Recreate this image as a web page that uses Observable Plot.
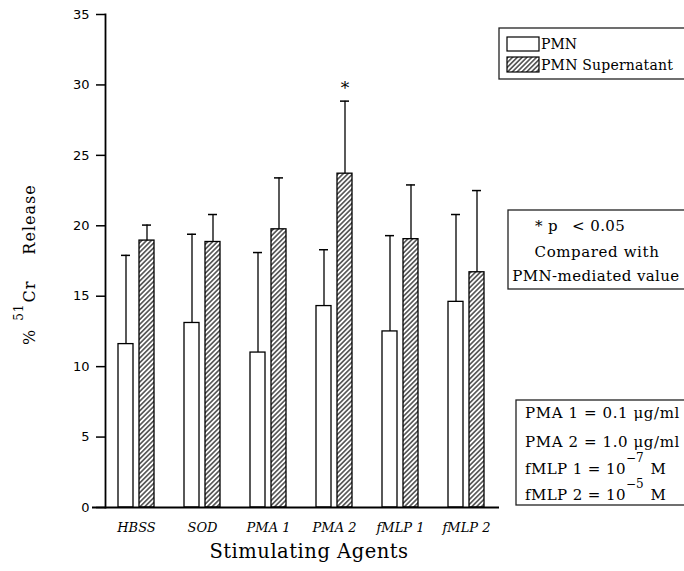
<!DOCTYPE html>
<html><head><meta charset="utf-8">
<script src="https://cdn.jsdelivr.net/npm/d3@7"></script>
<script src="https://cdn.jsdelivr.net/npm/@observablehq/plot@0.6"></script>
<style>body{margin:0;background:#fff} svg{display:block}</style>
</head><body><div id="chart"></div>
<script>
const agents = ["HBSS", "SOD", "PMA 1", "PMA 2", "fMLP 1", "fMLP 2"];
const pmnMean = [11.6, 13.1, 11.0, 14.3, 12.5, 14.6];
const pmnTop  = [17.9, 19.4, 18.1, 18.3, 19.3, 20.8];
const supMean = [18.95, 18.85, 19.75, 23.7, 19.05, 16.7];
const supTop  = [20.05, 20.8, 23.4, 28.85, 22.9, 22.5];
const significant = ["PMA 2"];
const yTicks = [0, 5, 10, 15, 20, 25, 30, 35];

const pmn = agents.map((a, i) => ({agent: a, mean: pmnMean[i], top: pmnTop[i]}));
const sup = agents.map((a, i) => ({agent: a, mean: supMean[i], top: supTop[i]}));
const sig = sup.filter(d => significant.includes(d.agent));

const serif = "'DejaVu Serif', serif";
const sans = "'DejaVu Sans', sans-serif";

const plot = Plot.plot({
  width: 684, height: 571,
  marginLeft: 105, marginRight: 185, marginTop: 14, marginBottom: 64,
  x: {domain: agents, range: [103, 499], padding: 0, label: null},
  y: {domain: [0, 35], label: null},
  style: {background: "white", color: "black"},
  marks: [
    Plot.barY(pmn, {x: "agent", y: "mean", fill: "white", stroke: "black", strokeWidth: 1.3, insetLeft: 15, insetRight: 36}),
    Plot.barY(sup, {x: "agent", y: "mean", fill: "url(#hatch51)", stroke: "black", strokeWidth: 1.3, insetLeft: 36, insetRight: 15}),
    Plot.ruleX(pmn, {x: "agent", y1: "mean", y2: "top", dx: -10.5, stroke: "black", strokeWidth: 1.3}),
    Plot.ruleX(sup, {x: "agent", y1: "mean", y2: "top", dx: 10.5, stroke: "black", strokeWidth: 1.3}),
    Plot.tickY(pmn, {x: "agent", y: "top", insetLeft: 18, insetRight: 39, stroke: "black", strokeWidth: 1.5}),
    Plot.tickY(sup, {x: "agent", y: "top", insetLeft: 39, insetRight: 18, stroke: "black", strokeWidth: 1.5}),
    Plot.text(sig, {x: "agent", y: "top", text: () => "*", dx: 10.5, dy: -13, fontSize: 17, fontFamily: serif, fill: "black"}),
    Plot.frame({anchor: "left", stroke: "black", strokeWidth: 1.8}),
    Plot.ruleY([0], {stroke: "black", strokeWidth: 1.8, insetLeft: -13}),
    Plot.axisY({ticks: yTicks, tickSize: 9, tickPadding: 7, tickFormat: d => String(d), fontSize: 13, fontFamily: sans, strokeWidth: 1.5}),
    Plot.axisX({tickSize: 0, tickPadding: 15, fontSize: 13, fontFamily: serif, fontStyle: "italic"})
  ]
});

document.getElementById("chart").appendChild(plot);
const svg = d3.select(plot);
svg.insert("defs", ":first-child").html(
  '<pattern id="hatch51" patternUnits="userSpaceOnUse" width="3.4" height="3.4" patternTransform="rotate(45)">' +
  '<rect width="3.4" height="3.4" fill="white"/>' +
  '<line x1="1.7" y1="0" x2="1.7" y2="3.4" stroke="black" stroke-width="1.1"/></pattern>'
);

const ann = svg.append("g").attr("font-family", serif).attr("fill", "black").attr("text-anchor", "start");

// Y axis label
const yl = ann.append("text").attr("transform", "translate(35,345) rotate(-90)")
  .attr("font-size", 16).attr("letter-spacing", 1).attr("text-anchor", "start");
yl.append("tspan").text("%");
yl.append("tspan").attr("dx", 8).attr("dy", -12).attr("font-size", 12).text("51");
yl.append("tspan").attr("dx", 1).attr("dy", 12).text("Cr");
yl.append("tspan").attr("dx", 26).text("Release");

// X axis label
ann.append("text").attr("x", 309).attr("y", 558).attr("text-anchor", "middle")
  .attr("font-size", 19.5).attr("letter-spacing", 0.5).text("Stimulating Agents");

// Legend box
const box = (x, y, w, h) => ann.append("rect").attr("x", x).attr("y", y).attr("width", w).attr("height", h)
  .attr("fill", "none").attr("stroke", "#222").attr("stroke-width", 1.3);
box(499, 28, 200, 51);
ann.append("rect").attr("x", 507).attr("y", 37).attr("width", 32).attr("height", 14)
  .attr("fill", "white").attr("stroke", "black").attr("stroke-width", 1.2);
ann.append("rect").attr("x", 507).attr("y", 57).attr("width", 32).attr("height", 15)
  .attr("fill", "url(#hatch51)").attr("stroke", "black").attr("stroke-width", 1.2);
ann.append("text").attr("x", 541).attr("y", 49).attr("font-size", 14).text("PMN");
ann.append("text").attr("x", 541).attr("y", 70).attr("font-size", 14).attr("letter-spacing", 0.2).text("PMN Supernatant");

// Significance box
box(508, 210, 190, 79);
const p1 = ann.append("text").attr("x", 535).attr("y", 231).attr("font-size", 15).attr("letter-spacing", 0.4);
p1.append("tspan").text("* p");
p1.append("tspan").attr("dx", 14).text("< 0.05");
ann.append("text").attr("x", 597).attr("y", 257).attr("text-anchor", "middle").attr("font-size", 15).attr("letter-spacing", 0.6).text("Compared with");
ann.append("text").attr("x", 596).attr("y", 281).attr("text-anchor", "middle").attr("font-size", 15).attr("letter-spacing", 0.4).text("PMN-mediated value");

// Definitions box
box(516, 400, 180, 105);
ann.append("text").attr("x", 525).attr("y", 418).attr("font-size", 15).attr("letter-spacing", 0.6).text("PMA 1 = 0.1 \u03BCg/ml");
ann.append("text").attr("x", 525).attr("y", 447).attr("font-size", 15).attr("letter-spacing", 0.6).text("PMA 2 = 1.0 \u03BCg/ml");
const f1 = ann.append("text").attr("x", 525).attr("y", 474).attr("font-size", 15).attr("letter-spacing", 0.4);
f1.append("tspan").text("fMLP 1 = 10");
f1.append("tspan").attr("dy", -12).attr("font-size", 12).attr("letter-spacing", 0).text("\u22127");
f1.append("tspan").attr("dy", 12).attr("dx", 7).text("M");
const f2 = ann.append("text").attr("x", 525).attr("y", 500).attr("font-size", 15).attr("letter-spacing", 0.4);
f2.append("tspan").text("fMLP 2 = 10");
f2.append("tspan").attr("dy", -12).attr("font-size", 12).attr("letter-spacing", 0).text("\u22125");
f2.append("tspan").attr("dy", 12).attr("dx", 7).text("M");
</script>
</body></html>
